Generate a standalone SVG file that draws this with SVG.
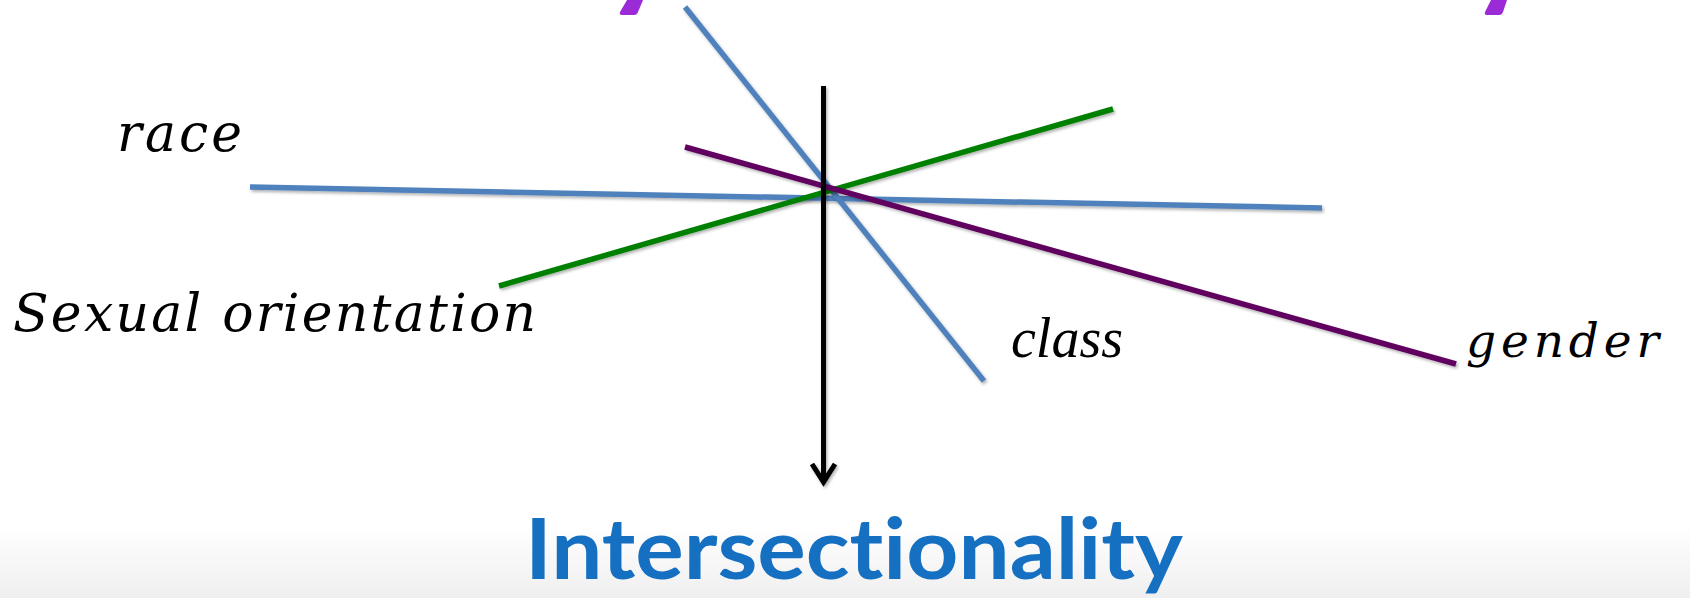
<svg xmlns="http://www.w3.org/2000/svg" width="1690" height="598" viewBox="0 0 1690 598">
  <defs>
    <linearGradient id="bg" x1="0" y1="0" x2="0" y2="1">
      <stop offset="0" stop-color="#ffffff"/>
      <stop offset="0.88" stop-color="#ffffff"/>
      <stop offset="1" stop-color="#efefef"/>
    </linearGradient>
    <filter id="shadow" filterUnits="userSpaceOnUse" x="0" y="0" width="1690" height="598">
      <feDropShadow dx="1.5" dy="2" stdDeviation="1.5" flood-color="#000" flood-opacity="0.3"/>
    </filter>
  </defs>
  <style>
    .ln { fill: none; stroke-width: 5.5; stroke-linecap: butt; filter: url(#shadow); }
    .blue { stroke: #4f81bd; }
    .green { stroke: #008000; }
    .purple { stroke: #60005f; }
    .black { stroke: #000000; stroke-width: 5; }
    .script { font-family: "DejaVu Serif", serif; font-style: italic; fill: #000; }
    .serif { font-family: "Liberation Serif", serif; font-style: italic; fill: #000; }
    .title { font-family: Lato, "Open Sans", sans-serif; font-weight: bold; fill: #1670c1; font-variant-ligatures: none; }
    .mark { fill: #9a2bd6; }
  </style>
  <rect x="0" y="0" width="1690" height="598" fill="url(#bg)"/>

  <g id="top-marks">
    <path class="mark" d="M627,0 L643,0 L638,12 Q637,15 634,15 L622,15 Q619,15 620,12 Z"/>
    <path class="mark" d="M1491,0 L1507,0 L1503,12 Q1502,15 1499,15 L1487,15 Q1484,15 1485,12 Z"/>
  </g>

  <g id="connectors">
    <line class="ln blue" x1="250" y1="187" x2="1322" y2="208"/>
    <line class="ln blue" x1="685" y1="7" x2="984" y2="381"/>
    <line class="ln green" x1="499" y1="286" x2="1113" y2="109"/>
    <line class="ln purple" x1="685" y1="147" x2="1456" y2="364"/>
    <line class="ln black" x1="823.5" y1="86" x2="823.5" y2="480"/>
    <polyline class="ln black" points="812,464 823.5,482 835,464" stroke-linecap="round" stroke-linejoin="miter"/>
  </g>

  <g id="race">
    <text class="script" x="117" y="151" font-size="52" textLength="125" lengthAdjust="spacing">race</text>
  </g>
  <g id="sexual-orientation">
    <text class="script" x="13" y="331" font-size="52" textLength="523" lengthAdjust="spacing">Sexual orientation</text>
  </g>
  <g id="class">
    <text class="serif" x="1011" y="357" font-size="56">class</text>
  </g>
  <g id="gender">
    <text class="script" x="1466" y="357" font-size="47" textLength="193" lengthAdjust="spacing">gender</text>
  </g>
  <g id="intersectionality">
    <text class="title" x="525" y="579" font-size="85" textLength="658" lengthAdjust="spacingAndGlyphs">Intersectionality</text>
  </g>
</svg>
